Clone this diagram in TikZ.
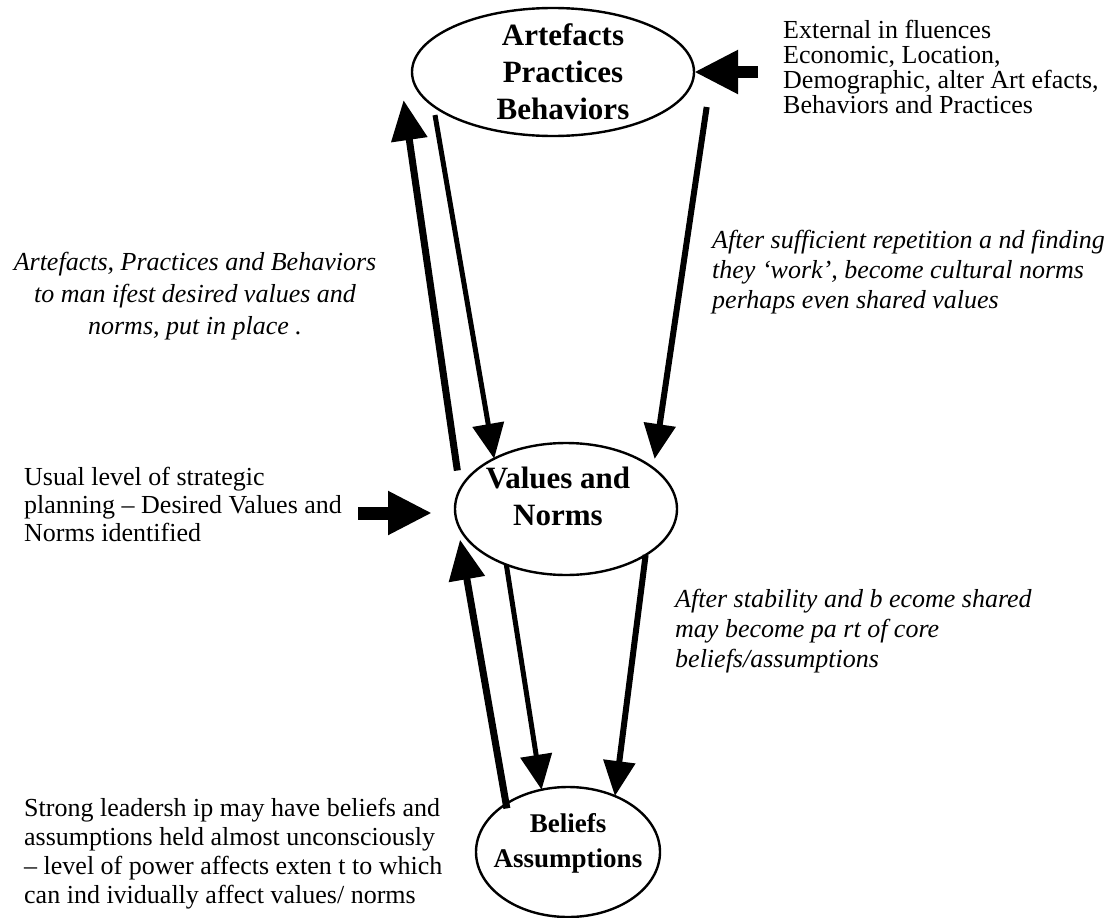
\documentclass[tikz,border=0pt]{standalone}
\usepackage{fontspec}
\setmainfont{Liberation Serif}
\usetikzlibrary{arrows.meta,shapes.geometric}
\tikzstyle{lvl} = [ellipse, draw, line width=2.4pt, inner sep=0pt, outer sep=0pt]
\tikzstyle{lvltxt} = [align=center, inner sep=0pt, font=\fontsize{31}{37}\selectfont\bfseries]
\tikzstyle{note} = [inner sep=0pt, align=left, font=\fontsize{26}{28}\selectfont]
\tikzstyle{inote} = [note, font=\fontsize{26}{30}\selectfont\itshape]
\tikzstyle{uparr} = [-{Triangle[length=40pt,width=35pt]}, line width=7pt]
\tikzstyle{dnarr} = [-{Triangle[length=35pt,width=31pt]}, line width=5pt]
\tikzstyle{fatarr} = [-{Triangle[length=44pt,width=41pt]}, line width=13pt]

\begin{document}
\begin{tikzpicture}[x=1pt,y=-1pt]
  \useasboundingbox (0,0) rectangle (1114,918);

  % the three levels
  \node[lvl, minimum width=282pt, minimum height=128pt,
        label={[lvltxt, xshift=10pt]center:Artefacts\\Practices\\Behaviors}] (art) at (553,72) {};
  \node[lvl, minimum width=222pt, minimum height=132pt,
        label={[lvltxt, xshift=-8pt, yshift=13pt]center:Values and\\Norms}] (val) at (566,509) {};
  \node[lvl, minimum width=184pt, minimum height=130pt,
        label={[lvltxt, yshift=9pt, font=\fontsize{27}{35}\selectfont\bfseries]center:Beliefs\\Assumptions}] (bel) at (568,852) {};

  % side notes
  \node[note, anchor=north west, font=\fontsize{26}{25}\selectfont] (ext) at (783,20)
    {External in fluences\\Economic,  Location,\\Demographic, alter Art efacts,\\Behaviors and  Practices};
  \node[inote, align=center, anchor=north, font=\fontsize{26}{32}\selectfont\itshape] (manif) at (195,252)
    {Artefacts, Practices and Behaviors\\to man ifest desired values and\\norms, put  in place .};
  \node[inote, anchor=north west] (rep) at (712,230)
    {After sufficient repetition a nd finding\\they ‘work’, become cultural norms\\perhaps even shared values};
  \node[note, anchor=north west] (plan) at (24,467)
    {Usual level of strategic\\planning – Desired Values and\\Norms identified};
  \node[inote, anchor=north west] (stab) at (675,589)
    {After stability and b ecome shared\\may become pa rt of core\\beliefs/assumptions};
  \node[note, anchor=north west, font=\fontsize{26}{29}\selectfont] (lead) at (24,798)
    {Strong leadersh ip may have beliefs and\\assumptions held  almost unconsciously\\– level of power affects exten t to which\\can ind ividually affect values/ norms};

  % arrows between levels
  \draw[uparr] ([shift={(-14,-4)}]val.160) -- ([shift={(-18,5)}]art.190);
  \draw[dnarr] ([shift={(-8,3)}]art.200) -- (val.145);
  \draw[dnarr, line width=6pt] ([shift={(28,6)}]art.347) -- ([shift={(9,-4)}]val.30);
  \draw[uparr] ([shift={(3,3)}]bel.144) -- ([shift={(-6,2)}]val.196);
  \draw[dnarr] (val.223) -- (bel.113);
  \draw[dnarr, line width=6pt] (val.330) -- (bel.50);

  % outside pushes
  \draw[fatarr, line width=12pt] ([xshift=-25pt]ext.west |- art.east) -- (art.east);
  \draw[fatarr] ([xshift=16pt,yshift=-4pt]plan.east |- val.west) -- ([xshift=-23pt,yshift=-4pt]val.west);
\end{tikzpicture}
\end{document}
